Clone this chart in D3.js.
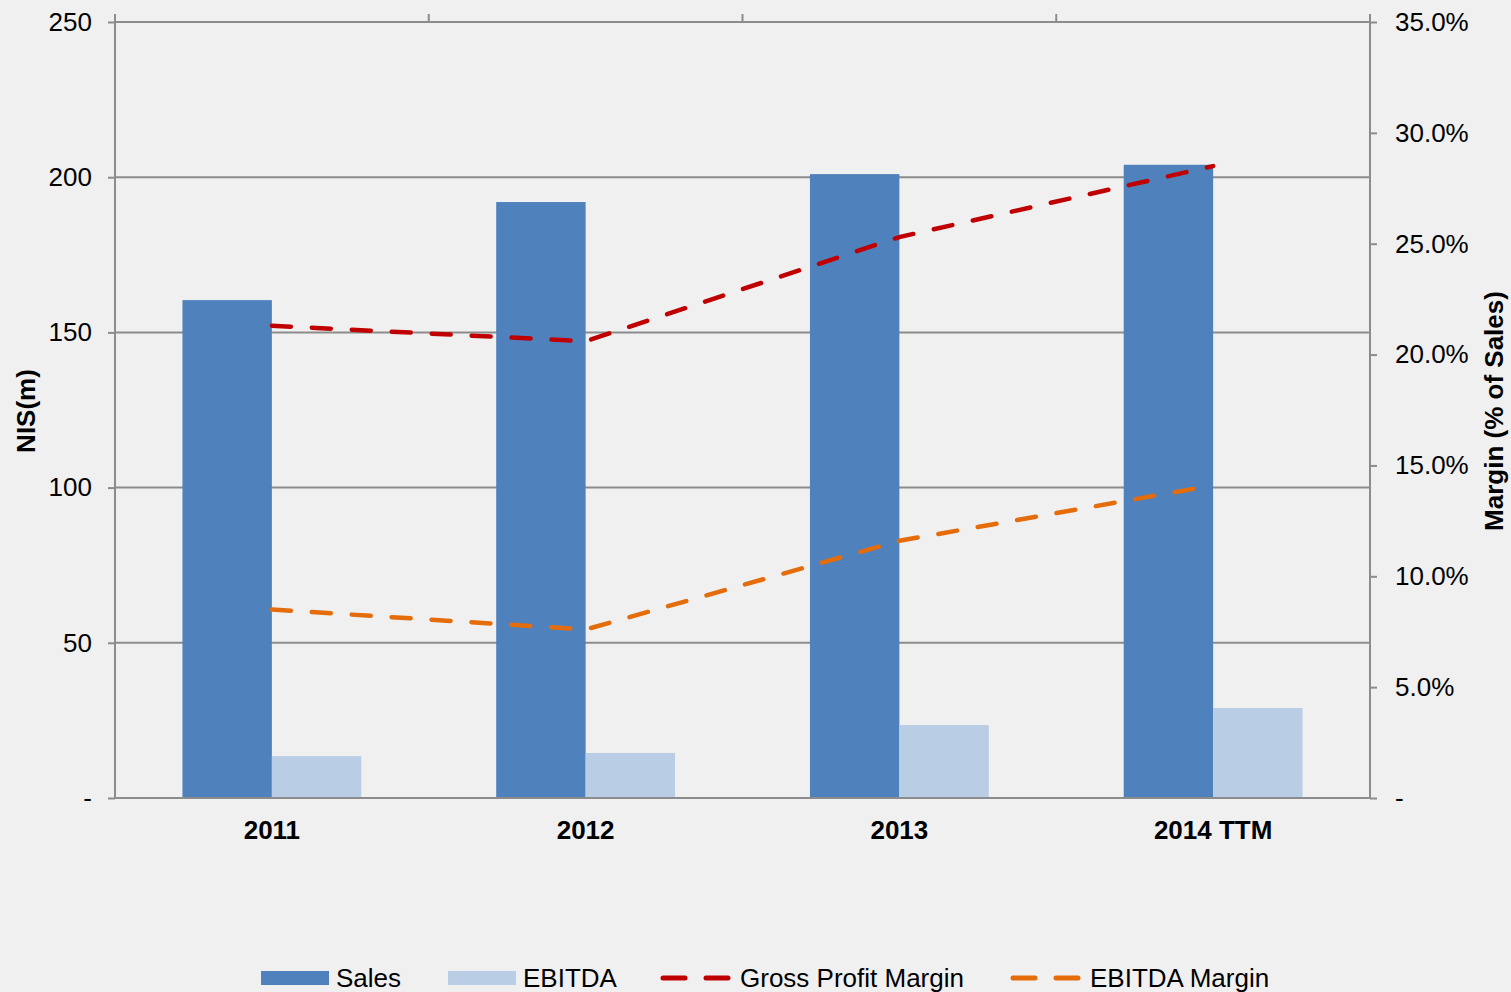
<!DOCTYPE html>
<html>
<head>
<meta charset="utf-8">
<script src="https://cdn.jsdelivr.net/npm/d3@7"></script>
<style>
  body { margin: 0; background: #f0f0f0; }
  svg { display: block; font-family: "Liberation Sans", Arial, sans-serif; }
</style>
</head>
<body>
<div id="chart"></div>
<script>
var years = ["2011", "2012", "2013", "2014 TTM"];
var sales = [160.4, 192, 201, 204];
var ebitda = [13.5, 14.5, 23.5, 29];
var grossMargin = [0.213, 0.206, 0.253, 0.285];
var ebitdaMargin = [0.085, 0.076, 0.116, 0.141];
var leftTicks = [0, 50, 100, 150, 200, 250];
var rightTicks = [0, 0.05, 0.10, 0.15, 0.20, 0.25, 0.30, 0.35];

var width = 1511, height = 992;
var margin = { top: 22, right: 141, bottom: 194, left: 115 };
var innerW = width - margin.left - margin.right;
var innerH = height - margin.top - margin.bottom;
var fontSize = 26;

var svg = d3.select("#chart").append("svg").attr("width", width).attr("height", height);
svg.append("rect").attr("width", width).attr("height", height).attr("fill", "#f0f0f0");

var g = svg.append("g").attr("transform", "translate(" + margin.left + "," + margin.top + ")");

var x = d3.scaleBand().domain(years).range([0, innerW]).paddingInner(0.43).paddingOuter(0.215);
var xc = d3.scaleBand().domain(years).range([0, innerW]);
var sub = d3.scaleBand().domain(["sales", "ebitda"]).range([0, x.bandwidth()]);
var yL = d3.scaleLinear().domain([0, 250]).range([innerH, 0]);
var yR = d3.scaleLinear().domain([0, 0.35]).range([innerH, 0]);

var gridColor = "#8c8c8c";

// gridlines
g.selectAll(".grid").data(leftTicks).enter().append("line")
    .attr("x1", 0).attr("x2", innerW)
    .attr("y1", function (d) { return yL(d); }).attr("y2", function (d) { return yL(d); })
    .attr("stroke", gridColor).attr("stroke-width", 2);

// bars
var groups = g.selectAll(".cat").data(years).enter().append("g")
    .attr("transform", function (d) { return "translate(" + x(d) + ",0)"; });
groups.append("rect")
    .attr("x", sub("sales")).attr("width", sub.bandwidth())
    .attr("y", function (d, i) { return yL(sales[i]); })
    .attr("height", function (d, i) { return innerH - yL(sales[i]); })
    .attr("fill", "#4f81bd");
groups.append("rect")
    .attr("x", sub("ebitda")).attr("width", sub.bandwidth())
    .attr("y", function (d, i) { return yL(ebitda[i]); })
    .attr("height", function (d, i) { return innerH - yL(ebitda[i]); })
    .attr("fill", "#b9cde5");

// axis lines
g.append("line").attr("x1", 0).attr("x2", innerW).attr("y1", innerH).attr("y2", innerH)
    .attr("stroke", gridColor).attr("stroke-width", 2);
g.append("line").attr("x1", 0).attr("x2", 0).attr("y1", -8).attr("y2", innerH)
    .attr("stroke", gridColor).attr("stroke-width", 2);
g.append("line").attr("x1", innerW).attr("x2", innerW).attr("y1", -8).attr("y2", innerH)
    .attr("stroke", gridColor).attr("stroke-width", 2);

// category separator ticks at top
g.selectAll(".sep").data(years.slice(1)).enter().append("line")
    .attr("x1", function (d) { return xc(d); }).attr("x2", function (d) { return xc(d); })
    .attr("y1", -8).attr("y2", 0)
    .attr("stroke", gridColor).attr("stroke-width", 2);

// left axis
var leftAxis = d3.axisLeft(yL).tickValues(leftTicks).tickSize(7).tickPadding(16)
    .tickFormat(function (d) { return d === 0 ? "-" : d; });
var la = g.append("g").call(leftAxis);
la.select(".domain").remove();
la.selectAll(".tick line").attr("stroke", gridColor).attr("stroke-width", 2);
la.selectAll(".tick text").attr("font-size", fontSize).attr("fill", "#000")
    .attr("font-family", "Liberation Sans, Arial, sans-serif");

// right axis
var rightAxis = d3.axisRight(yR).tickValues(rightTicks).tickSize(7).tickPadding(18)
    .tickFormat(function (d) { return d === 0 ? "-" : d3.format(".1%")(d); });
var ra = g.append("g").attr("transform", "translate(" + innerW + ",0)").call(rightAxis);
ra.select(".domain").remove();
ra.selectAll(".tick line").attr("stroke", gridColor).attr("stroke-width", 2);
ra.selectAll(".tick text").attr("font-size", fontSize).attr("fill", "#000")
    .attr("font-family", "Liberation Sans, Arial, sans-serif");

// category labels
g.selectAll(".xlab").data(years).enter().append("text")
    .attr("x", function (d) { return xc(d) + xc.bandwidth() / 2; })
    .attr("y", innerH + 41)
    .attr("text-anchor", "middle").attr("font-size", fontSize).attr("font-weight", "bold")
    .text(function (d) { return d; });

// lines
var line = function (vals) {
    return d3.line()
        .x(function (d, i) { return xc(years[i]) + xc.bandwidth() / 2; })
        .y(function (d) { return yR(d); })(vals);
};
g.append("path").attr("d", line(grossMargin)).attr("fill", "none")
    .attr("stroke", "#c00000").attr("stroke-width", 4.5)
    .attr("stroke-dasharray", "19,21").attr("stroke-linecap", "round");
g.append("path").attr("d", line(ebitdaMargin)).attr("fill", "none")
    .attr("stroke", "#e46c0a").attr("stroke-width", 4.5)
    .attr("stroke-dasharray", "19,21").attr("stroke-linecap", "round");

// axis titles
svg.append("text").attr("transform", "translate(35,411) rotate(-90)")
    .attr("text-anchor", "middle").attr("font-size", fontSize).attr("font-weight", "bold")
    .text("NIS(m)");
svg.append("text").attr("transform", "translate(1503,411) rotate(-90)")
    .attr("text-anchor", "middle").attr("font-size", fontSize).attr("font-weight", "bold")
    .text("Margin (% of Sales)");

// legend
var legend = [
    { name: "Sales", type: "rect", color: "#4f81bd", x: 261, tx: 336 },
    { name: "EBITDA", type: "rect", color: "#b9cde5", x: 448, tx: 523 },
    { name: "Gross Profit Margin", type: "line", color: "#c00000", x: 663, tx: 740 },
    { name: "EBITDA Margin", type: "line", color: "#e46c0a", x: 1013, tx: 1090 }
];
var lg = svg.append("g");
legend.forEach(function (d) {
    if (d.type === "rect") {
        lg.append("rect").attr("x", d.x).attr("y", 971).attr("width", 68).attr("height", 14).attr("fill", d.color);
    } else {
        lg.append("line").attr("x1", d.x).attr("x2", d.x + 22).attr("y1", 978).attr("y2", 978)
            .attr("stroke", d.color).attr("stroke-width", 5).attr("stroke-linecap", "round");
        lg.append("line").attr("x1", d.x + 43).attr("x2", d.x + 65).attr("y1", 978).attr("y2", 978)
            .attr("stroke", d.color).attr("stroke-width", 5).attr("stroke-linecap", "round");
    }
    lg.append("text").attr("x", d.tx).attr("y", 987).attr("font-size", fontSize).attr("fill", "#000").text(d.name);
});
</script>
</body>
</html>
